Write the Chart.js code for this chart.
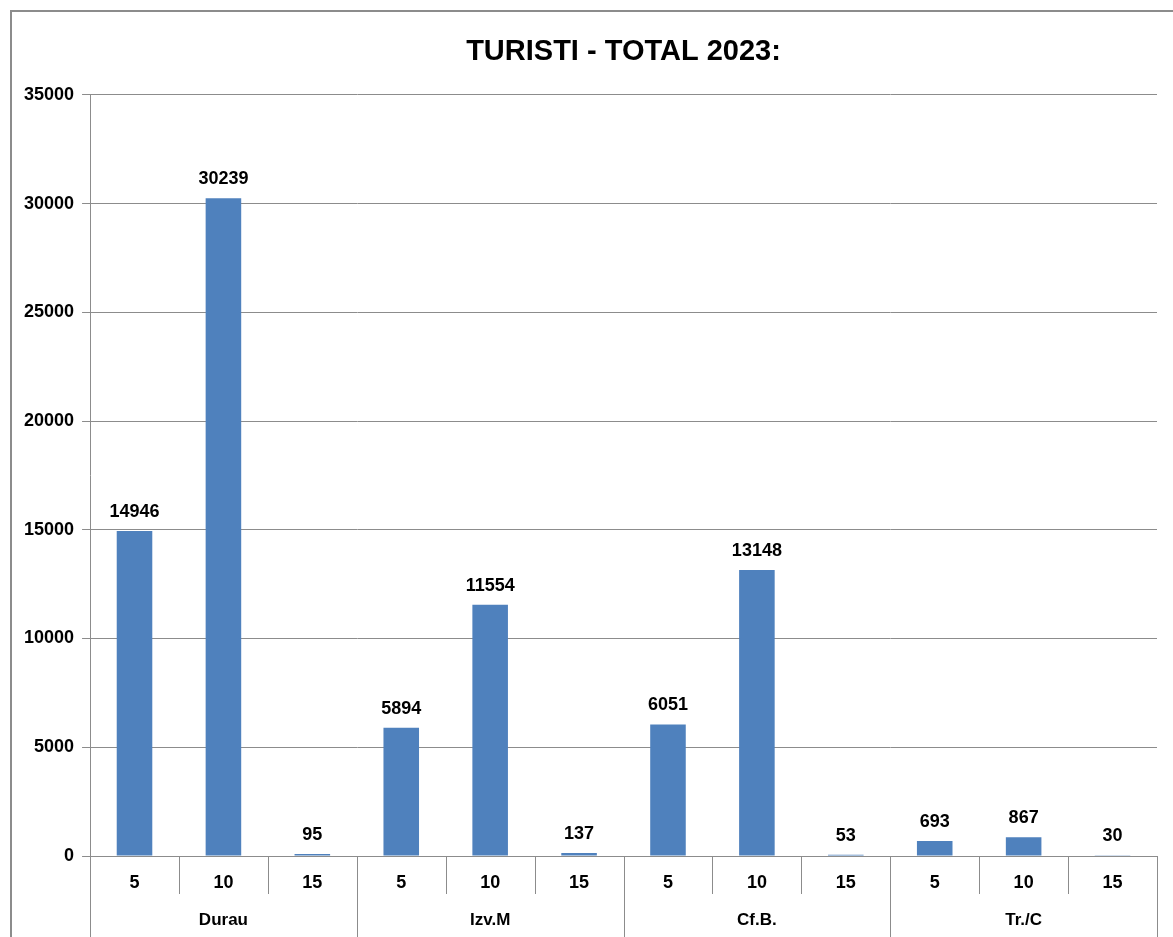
<!DOCTYPE html>
<html>
<head>
<meta charset="utf-8">
<script src="https://cdn.jsdelivr.net/npm/chart.js@4"></script>
<style>
  html, body { margin: 0; padding: 0; background: #fff; }
  #box {
    position: absolute; left: 10px; top: 10px; width: 1163px; height: 927px;
    border-top: 2px solid #8c8c8c; border-left: 2px solid #8c8c8c; box-sizing: border-box;
  }
  #wrap { position: absolute; left: 10px; top: 10px; width: 1163px; height: 927px; }
</style>
</head>
<body>
<div id="box"></div>
<div id="wrap"><canvas id="turistiChart"></canvas></div>
<script>
// Datos del grafico
const groups = ['Durau', 'Izv.M', 'Cf.B.', 'Tr./C'];
const subLabels = ['5', '10', '15'];
const durau = [14946, 30239, 95];
const izvM = [5894, 11554, 137];
const cfB = [6051, 13148, 53];
const trC = [693, 867, 30];
const yTicks = [0, 5000, 10000, 15000, 20000, 25000, 30000, 35000];

const labels = groups.flatMap(() => subLabels);
const values = [...durau, ...izvM, ...cfB, ...trC];

const fontFam = "'Liberation Sans', Arial, sans-serif";
const lineColor = '#8c8c8c';

// Etiquetas de valor sobre cada barra
const valueLabels = {
  id: 'valueLabels',
  afterDatasetsDraw(chart) {
    const ctx = chart.ctx;
    const meta = chart.getDatasetMeta(0);
    ctx.save();
    ctx.font = 'bold 18px ' + fontFam;
    ctx.fillStyle = '#000';
    ctx.textAlign = 'center';
    ctx.textBaseline = 'bottom';
    meta.data.forEach((bar, i) => {
      ctx.fillText(String(values[i]), bar.x, bar.y - 10);
    });
    ctx.restore();
  }
};

// Separadores del eje X (cortos entre categorias, largos entre grupos)
const axisSeparators = {
  id: 'axisSeparators',
  afterDraw(chart) {
    const ctx = chart.ctx;
    const x = chart.scales.x;
    const top = chart.chartArea.bottom;
    const half = (x.getPixelForValue(1) - x.getPixelForValue(0)) / 2;
    ctx.save();
    ctx.strokeStyle = lineColor;
    ctx.lineWidth = 1;
    for (let i = 0; i <= labels.length; i++) {
      const px = Math.round(i < labels.length ? x.getPixelForValue(i) - half : x.getPixelForValue(i - 1) + half) + 0.5;
      const isGroup = i % subLabels.length === 0;
      ctx.beginPath();
      ctx.moveTo(px, top);
      ctx.lineTo(px, isGroup ? chart.height : top + 38);
      ctx.stroke();
    }
    ctx.restore();
  }
};

new Chart(document.getElementById('turistiChart').getContext('2d'), {
  type: 'bar',
  data: {
    labels: labels,
    datasets: [{
      data: values,
      backgroundColor: '#4F81BD',
      borderWidth: 0,
      categoryPercentage: 1,
      barPercentage: 0.4
    }]
  },
  options: {
    responsive: true,
    maintainAspectRatio: false,
    animation: false,
    layout: { padding: { left: 6, right: 16, top: 0, bottom: 5 } },
    plugins: {
      legend: { display: false },
      tooltip: { enabled: false },
      title: {
        display: true,
        fullSize: false,
        text: 'TURISTI - TOTAL 2023:',
        color: '#000',
        font: { family: fontFam, size: 29, weight: 'bold' },
        padding: { top: 25, bottom: 25 }
      }
    },
    scales: {
      y: {
        min: 0,
        max: 35000,
        afterBuildTicks: axis => { axis.ticks = yTicks.map(v => ({ value: v })); },
        grid: { color: lineColor, lineWidth: 1, tickLength: 8 },
        border: { color: lineColor, width: 1 },
        ticks: {
          color: '#000',
          padding: 8,
          callback: v => String(v),
          font: { family: fontFam, size: 18, weight: 'bold' }
        }
      },
      x: {
        offset: true,
        grid: { display: false },
        border: { color: lineColor, width: 1 },
        ticks: {
          color: '#000',
          padding: 8,
          maxRotation: 0,
          autoSkip: false,
          font: { family: fontFam, size: 18, weight: 'bold' }
        }
      },
      x2: {
        type: 'category',
        labels: groups,
        position: 'bottom',
        offset: true,
        grid: { display: false },
        border: { display: false },
        ticks: {
          color: '#000',
          padding: 1,
          maxRotation: 0,
          font: { family: fontFam, size: 17, weight: 'bold' }
        }
      }
    }
  },
  plugins: [valueLabels, axisSeparators]
});
</script>
</body>
</html>
